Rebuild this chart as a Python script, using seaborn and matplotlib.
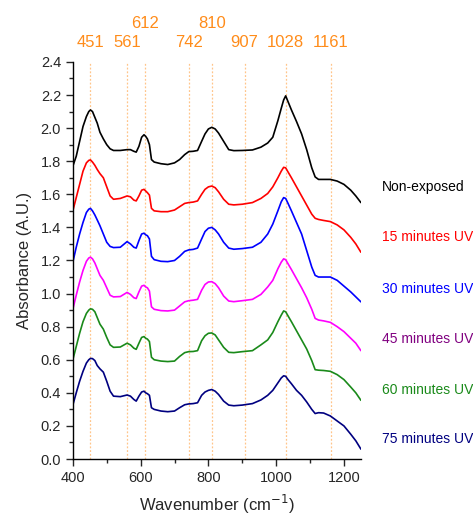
import numpy as np
import pandas as pd
import matplotlib
matplotlib.use("Agg")
import matplotlib.pyplot as plt
import matplotlib.transforms as mtransforms
from matplotlib.ticker import MultipleLocator, FormatStrFormatter
import seaborn as sns

sns.set_style("ticks")
plt.rcParams["font.family"] = ["Liberation Sans", "DejaVu Sans"]

# wavenumber grid (cm-1) shared by all spectra
wavenumber = [400, 410, 420, 430, 440, 447, 452, 458, 465, 472,
              480, 490, 500, 510, 520, 540, 560, 570, 580, 587,
              595, 603, 610, 615, 620, 626, 632, 640, 660, 680,
              700, 715, 730, 742, 755, 768, 780, 790, 800, 810,
              820, 830, 845, 860, 875, 900, 930, 955, 975, 990,
              1005, 1015, 1022, 1028, 1035, 1045, 1060, 1075, 1090, 1105,
              1115, 1125, 1140, 1160, 1180, 1200, 1220, 1235, 1250]

non_exposed = [1.77, 1.83, 1.92, 2.01, 2.07, 2.10, 2.11, 2.10, 2.065, 2.03,
               1.975, 1.935, 1.90, 1.875, 1.865, 1.865, 1.87, 1.87, 1.86, 1.855,
               1.89, 1.945, 1.96, 1.95, 1.935, 1.90, 1.81, 1.795, 1.785, 1.78,
               1.79, 1.81, 1.84, 1.858, 1.86, 1.865, 1.92, 1.965, 1.995, 2.005,
               1.995, 1.97, 1.92, 1.87, 1.864, 1.865, 1.868, 1.885, 1.91, 1.945,
               2.045, 2.12, 2.17, 2.195, 2.16, 2.11, 2.04, 1.965, 1.87, 1.76,
               1.705, 1.69, 1.69, 1.69, 1.68, 1.66, 1.625, 1.59, 1.55]
uv_15 = [1.50, 1.58, 1.66, 1.74, 1.79, 1.805, 1.808, 1.795, 1.775, 1.75,
         1.725, 1.70, 1.645, 1.59, 1.57, 1.575, 1.59, 1.585, 1.565, 1.56,
         1.59, 1.625, 1.63, 1.62, 1.61, 1.595, 1.515, 1.50, 1.495, 1.495,
         1.505, 1.525, 1.545, 1.55, 1.553, 1.56, 1.60, 1.63, 1.645, 1.65,
         1.64, 1.615, 1.57, 1.54, 1.536, 1.54, 1.55, 1.575, 1.605, 1.645,
         1.70, 1.74, 1.763, 1.76, 1.735, 1.70, 1.645, 1.59, 1.535, 1.48,
         1.455, 1.448, 1.442, 1.435, 1.415, 1.385, 1.34, 1.30, 1.25]
uv_30 = [1.19, 1.28, 1.36, 1.43, 1.49, 1.51, 1.515, 1.50, 1.475, 1.445,
         1.41, 1.36, 1.31, 1.285, 1.278, 1.28, 1.314, 1.30, 1.28, 1.275,
         1.32, 1.36, 1.365, 1.355, 1.35, 1.33, 1.225, 1.205, 1.195, 1.193,
         1.20, 1.225, 1.255, 1.264, 1.267, 1.275, 1.33, 1.375, 1.395, 1.40,
         1.385, 1.36, 1.31, 1.275, 1.268, 1.272, 1.28, 1.31, 1.36, 1.42,
         1.50, 1.555, 1.58, 1.575, 1.545, 1.50, 1.43, 1.36, 1.26, 1.16,
         1.11, 1.10, 1.10, 1.10, 1.08, 1.045, 1.01, 0.98, 0.95]
uv_45 = [0.905, 0.99, 1.07, 1.14, 1.195, 1.215, 1.22, 1.21, 1.185, 1.15,
         1.11, 1.08, 1.035, 0.99, 0.98, 0.982, 1.007, 0.995, 0.975, 0.97,
         1.01, 1.045, 1.05, 1.04, 1.035, 1.015, 0.92, 0.905, 0.897, 0.895,
         0.90, 0.925, 0.95, 0.957, 0.96, 0.965, 1.02, 1.055, 1.07, 1.072,
         1.06, 1.035, 0.985, 0.955, 0.951, 0.957, 0.965, 0.995, 1.04, 1.08,
         1.15, 1.19, 1.21, 1.205, 1.18, 1.145, 1.09, 1.035, 0.975, 0.905,
         0.85, 0.84, 0.835, 0.826, 0.80, 0.77, 0.73, 0.70, 0.655]
uv_60 = [0.60, 0.68, 0.76, 0.83, 0.88, 0.90, 0.908, 0.905, 0.89, 0.855,
         0.815, 0.785, 0.735, 0.69, 0.675, 0.677, 0.70, 0.69, 0.67, 0.663,
         0.70, 0.735, 0.74, 0.73, 0.725, 0.71, 0.615, 0.60, 0.592, 0.589,
         0.592, 0.62, 0.643, 0.649, 0.65, 0.655, 0.715, 0.745, 0.76, 0.762,
         0.75, 0.72, 0.675, 0.645, 0.643, 0.649, 0.655, 0.69, 0.72, 0.765,
         0.83, 0.87, 0.895, 0.89, 0.865, 0.83, 0.775, 0.72, 0.665, 0.595,
         0.54, 0.537, 0.535, 0.53, 0.51, 0.48, 0.435, 0.40, 0.355]
uv_75 = [0.326, 0.40, 0.47, 0.53, 0.58, 0.60, 0.608, 0.607, 0.595, 0.565,
         0.545, 0.525, 0.47, 0.41, 0.38, 0.377, 0.387, 0.38, 0.36, 0.35,
         0.38, 0.405, 0.41, 0.40, 0.395, 0.385, 0.31, 0.30, 0.29, 0.286,
         0.29, 0.31, 0.328, 0.333, 0.335, 0.34, 0.385, 0.405, 0.415, 0.42,
         0.41, 0.39, 0.35, 0.326, 0.322, 0.326, 0.335, 0.357, 0.385, 0.415,
         0.46, 0.49, 0.503, 0.50, 0.48, 0.455, 0.415, 0.385, 0.345, 0.30,
         0.275, 0.28, 0.278, 0.26, 0.23, 0.20, 0.15, 0.11, 0.06]

series_names = ["Non-exposed", "15 minutes UV", "30 minutes UV",
                "45 minutes UV", "60 minutes UV", "75 minutes UV"]
series_values = [non_exposed, uv_15, uv_30, uv_45, uv_60, uv_75]
line_colors = ["#000000", "#FF0000", "#0000FF", "#FF00FF", "#1A8A1A", "#000080"]
text_colors = ["#000000", "#FF0000", "#0000FF", "#800080", "#1A8A1A", "#000080"]
label_y = [1.645, 1.34, 1.03, 0.725, 0.42, 0.12]

peaks = [451, 561, 612, 742, 810, 907, 1028, 1161]
peak_raised = [False, False, True, False, True, False, False, False]

df = pd.concat([pd.DataFrame({"Wavenumber": wavenumber, "Absorbance": v, "Sample": n})
                for n, v in zip(series_names, series_values)])

fig = plt.figure(figsize=(4.73, 5.15), dpi=100)
ax = fig.add_axes([0.154, 0.1087, 0.609, 0.771])

for p in peaks:
    ax.axvline(p, color="#FFC58A", linestyle=(0, (1.5, 1.5)), linewidth=0.9, zorder=0)

sns.lineplot(data=df, x="Wavenumber", y="Absorbance", hue="Sample",
             palette=dict(zip(series_names, line_colors)), linewidth=1.2,
             legend=False, ax=ax, sort=False)

trans = mtransforms.blended_transform_factory(ax.transData, ax.transAxes)
for p, up in zip(peaks, peak_raised):
    ax.text(p, 1.098 if up else 1.050, str(p), transform=trans, ha="center",
            va="center", fontsize=12, color="#FF8C1A", clip_on=False)

for n, c, yv in zip(series_names, text_colors, label_y):
    ax.text(1312, yv, n, color=c, fontsize=10, va="center", ha="left", clip_on=False)

ax.set_xlim(400, 1250)
ax.set_ylim(0, 2.4)
ax.xaxis.set_major_locator(MultipleLocator(200))
ax.xaxis.set_minor_locator(MultipleLocator(100))
ax.yaxis.set_major_locator(MultipleLocator(0.2))
ax.yaxis.set_minor_locator(MultipleLocator(0.1))
ax.yaxis.set_major_formatter(FormatStrFormatter("%.1f"))
ax.tick_params(which="major", direction="out", length=5, width=1, labelsize=10.5)
ax.tick_params(which="minor", direction="out", length=3, width=1)
sns.despine(ax=ax)
for s in ["left", "bottom"]:
    ax.spines[s].set_linewidth(1.0)
    ax.spines[s].set_color("black")

ax.set_xlabel("Wavenumber (cm$^{-1}$)", fontsize=12, labelpad=6)
ax.set_ylabel("Absorbance (A.U.)", fontsize=12, labelpad=6)

fig.savefig("out.png", dpi=100)
